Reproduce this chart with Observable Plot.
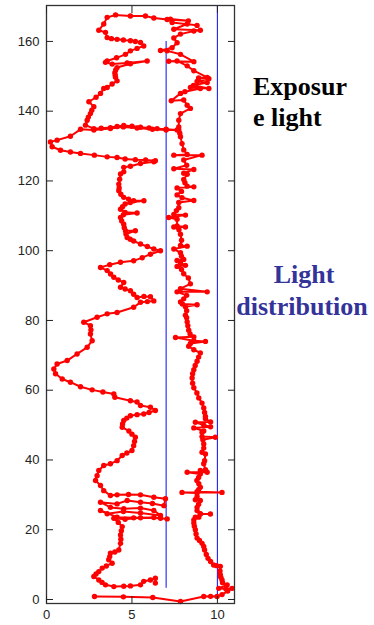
<!DOCTYPE html>
<html><head><meta charset="utf-8">
<script src="https://cdn.jsdelivr.net/npm/d3@7"></script>
<script src="https://cdn.jsdelivr.net/npm/@observablehq/plot@0.6"></script>
<style>body{margin:0;background:#fff;} #chart{position:relative;width:374px;height:625px;}</style>
</head><body><div id="chart"></div>
<script>
const xTicks = [0, 5, 10];
const yTicks = [0, 20, 40, 60, 80, 100, 120, 140, 160];
const guideX = [7, 10];
const guideYStart = [3.2, 0];
const guideYEnd = [160, 170.3];
const labelsBlack = ["Exposur", "e light"];
const labelsBlue = ["Light", "distribution"];

const bottomAndRight = [[2.81,0.86],[4.5,0.75],[6.22,0.57],[7.84,-0.57],[9.2,0.86],[9.6,0.9],[9.98,0.86],[10.27,1.4],[10.6,2.4],[10.86,3.2],[10.5,3.0],[10.08,3.2],[10.57,4.2],[10.3,4.8],[10.27,5.6],[10.2,6.4],[10.17,7.1],[10.15,8.2],[10.17,9.5],[9.95,9.7],[9.78,9.9],[9.6,10.9],[9.45,11.8],[9.35,12.9],[9.25,14.2],[9.2,15.2],[9.1,16.1],[8.95,16.9],[8.81,17.6],[8.75,18.8],[8.71,20.0],[8.65,21.0],[8.62,21.9],[8.62,22.8],[8.71,23.6],[8.91,23.6],[9.0,24.5],[9.59,24.5],[9.0,24.6],[8.81,25.5],[8.81,26.4],[8.9,27.3],[9.0,28.4],[8.71,28.6],[8.81,29.5],[8.81,30.5],[7.93,30.7],[10.27,30.7],[8.81,30.9],[8.9,31.5],[9.0,32.2],[8.91,33.2],[8.8,34.1],[8.9,35.0],[9.0,36.0],[8.23,36.5],[9.4,36.5],[9.0,37.0],[9.3,37.2],[9.2,38.9],[9.25,39.8],[9.3,41.7],[9.1,42.2],[9.2,43.4],[9.2,44.6],[9.15,45.8],[9.88,46.5],[9.1,46.7],[9.1,47.9],[9.2,48.3],[8.62,49.2],[9.6,49.5],[9.2,50.0],[8.71,50.8],[9.6,50.9],[9.3,51.8],[9.3,52.5],[9.25,53.6],[9.2,54.9],[9.1,56.3],[8.91,57.8],[8.8,59.2],[8.62,60.7],[8.55,62.0],[8.52,63.5],[8.55,64.7],[8.62,65.9],[8.7,67.1],[8.81,68.3],[8.9,69.5],[9.0,70.7],[8.62,71.6],[8.32,72.6],[8.42,73.4],[9.3,74.0],[8.62,74.2],[7.55,75.1],[8.62,75.3],[8.4,76.1],[8.32,77.2],[8.27,78.5],[8.23,79.6],[8.2,80.8],[8.13,81.5],[8.2,82.8],[8.13,83.9],[8.81,84.5],[7.95,84.7],[7.84,85.3],[8.03,86.2],[8.2,87.2],[7.64,88.2],[9.4,88.2],[7.84,89.1],[8.42,90.5],[8.3,92.2],[8.03,93.4],[7.9,94.6],[7.64,95.5],[8.13,95.8],[7.84,96.5],[7.64,97.2],[8.03,97.5],[7.9,98.4],[7.84,99.4],[7.45,100.5],[8.23,101.3],[7.84,101.5],[7.9,103.0],[7.84,104.7],[7.75,106.0],[7.45,106.8],[8.13,106.8],[7.64,107.1],[7.64,109.0],[7.15,109.5],[8.13,110.2],[7.45,110.4],[7.6,111.5],[7.74,112.3],[7.74,113.8],[8.62,114.4],[7.93,115.2],[7.64,116.0],[7.9,117.0],[7.64,118.0],[8.62,118.3],[8.23,118.5],[8.1,119.5],[8.03,120.4],[8.23,121.9],[8.03,122.2],[8.62,123.3],[7.45,123.5],[8.2,124.5],[8.03,126.0],[9.1,127.4],[7.45,127.4],[8.23,127.6],[8.03,128.9],[7.93,130.7],[7.84,132.7],[7.8,133.7],[7.74,134.6],[7.74,135.5],[7.74,137.4],[7.84,139.3],[8.42,140.8],[8.23,141.7],[8.03,143.2],[7.3,143.0],[7.84,145.1],[8.1,145.6],[9.0,146.5],[8.42,146.8],[9.5,146.5],[8.6,147.4],[9.4,148.2],[8.81,148.5],[9.5,149.3],[8.9,149.5],[9.4,149.7],[8.62,151.6],[8.23,153.0],[7.64,154.4],[7.15,154.3],[8.62,154.2],[7.84,156.3],[7.06,157.3],[6.67,157.4],[7.35,158.2],[7.64,159.6],[7.45,161.0],[7.84,162.1],[8.62,163.0],[9.0,163.2],[7.45,163.5],[8.23,165.0],[8.81,164.6],[7.35,165.4],[7.25,166.4],[8.3,165.9],[7.06,166.3]];

const topArc = [[6.28,166.7],[5.79,167.3],[4.91,167.3],[4.04,167.6],[3.55,166.9],[3.35,165.0],[3.06,163.2],[3.45,162.6],[3.55,161.1],[3.8,160.8],[4.13,160.6],[4.5,160.4],[4.91,160.2],[5.2,160.0],[5.5,159.7],[5.69,158.7],[5.3,158.0],[4.91,157.3],[4.62,156.3],[4.1,155.3],[3.55,154.4],[3.45,154.0],[3.84,153.5],[4.72,153.8],[5.89,154.4],[4.91,153.6],[4.13,152.5],[4.05,151.8],[4.0,151.0],[4.02,150.3],[4.04,149.7],[4.13,148.7],[3.84,147.8],[3.55,146.8],[3.35,146.5],[3.16,145.1],[2.9,144.0],[2.48,142.7],[2.77,141.3],[2.65,140.3],[2.57,139.3],[2.45,138.3],[2.38,137.4],[2.28,136.0]];

const leftSide = [[2.77,135.0],[3.2,135.1],[3.74,135.3],[4.13,135.6],[4.52,135.9],[5.0,135.7],[5.5,135.4],[6.0,135.2],[6.47,135.0],[7.0,134.8],[7.64,134.6],[7.0,134.6],[6.2,134.8],[5.3,135.2],[4.5,135.5],[3.74,135.0],[2.77,134.6],[1.99,134.8],[1.4,132.8],[0.62,131.7],[0.23,131.2],[0.33,129.8],[0.82,128.8],[1.4,128.3],[1.99,127.9],[2.8,127.4],[3.55,126.9],[4.13,126.7],[4.6,126.3],[5.2,126.1],[5.8,126.0],[6.37,125.8],[6.28,125.5],[5.5,125.0],[4.91,124.2],[4.52,123.9],[4.52,122.6],[4.33,122.0],[4.28,120.5],[4.23,119.1],[4.25,118.0],[4.23,117.2],[4.35,116.2],[4.52,115.3],[4.8,114.8],[5.1,114.3],[5.7,114.3],[4.9,113.8],[4.6,113.4],[4.45,112.6],[4.33,111.9],[4.6,111.0],[5.3,110.8],[4.5,110.3],[4.33,109.5],[4.4,108.5],[4.52,107.6],[4.55,106.6],[4.62,105.7],[5.2,105.7],[4.65,104.8],[4.72,103.8],[4.9,103.3],[5.1,102.8],[5.5,101.9],[5.9,101.2],[6.28,100.5],[6.67,100.0],[6.08,99.0],[5.6,98.0],[5.1,97.1],[4.33,96.7],[3.7,96.0],[3.16,95.2],[3.55,94.3],[3.75,93.3],[3.94,92.4],[4.2,91.6],[4.52,90.9],[4.33,89.5],[4.6,89.0],[4.91,88.5],[5.1,87.5],[5.3,86.6],[5.7,86.9],[6.08,86.8],[6.28,85.6],[5.9,85.4],[5.5,85.2],[5.1,83.8],[4.13,82.3],[3.55,81.9],[2.96,80.9],[2.18,79.5],[2.57,78.5],[2.6,77.3],[2.57,76.1],[2.67,74.2],[2.38,72.3],[1.79,70.4],[1.21,68.5],[0.62,67.5],[0.43,66.1],[0.53,64.7],[0.92,63.2],[1.4,62.3],[1.99,61.0],[2.67,60.1],[3.3,59.5],[3.94,58.9],[4.0,58.0],[4.91,57.0],[5.3,56.6],[5.5,55.6],[6.08,55.1],[6.37,54.2],[6.0,53.6],[5.69,53.2],[5.3,53.0],[4.91,52.7],[4.7,52.0],[4.52,51.3],[4.45,50.3],[4.43,49.4],[4.82,48.3],[5.0,47.4],[5.2,46.5],[5.15,45.3],[5.1,44.1],[5.0,42.7],[4.7,42.0],[4.43,41.3],[4.13,39.8],[3.74,38.9],[3.35,38.4],[3.06,37.0],[2.96,35.5],[2.87,34.1],[3.16,32.7],[3.35,31.2],[3.74,29.8],[4.13,30.0],[4.8,30.1],[5.5,30.0],[6.28,29.3],[6.96,28.9],[6.87,26.9],[6.2,27.5],[5.5,27.9],[4.72,28.4],[4.13,27.4],[3.16,27.9],[3.74,26.4],[4.52,26.0],[5.5,26.2],[6.28,25.5],[6.67,24.1],[5.5,24.8],[4.5,25.2],[3.55,24.6],[3.16,25.5],[4.13,23.6],[5.1,23.4],[6.28,23.5],[7.06,23.1],[6.67,23.3],[5.5,23.4],[4.6,23.0],[3.94,23.3],[4.2,22.1],[4.43,20.9],[4.38,19.7],[4.33,18.5],[4.35,17.3],[4.33,16.1],[4.23,14.2],[4.0,13.6],[3.74,13.3],[3.7,12.3],[3.64,11.4],[3.84,10.4],[3.5,9.6],[3.26,9.0],[3.06,8.0],[2.9,7.3],[2.77,6.6],[3.06,5.6],[3.25,4.9],[3.45,4.2],[3.94,3.7],[4.52,3.8],[4.91,3.9],[5.5,4.2],[5.69,5.2],[6.08,5.6],[6.37,6.1],[6.37,4.7]];

const path = [...bottomAndRight, ...topArc, ...leftSide];
const guides = guideX.map((x, i) => ({x, y1: guideYStart[i], y2: guideYEnd[i]}));

const plot = Plot.plot({
  width: 374, height: 625,
  marginLeft: 46, marginRight: 140, marginTop: 5, marginBottom: 22,
  style: {fontFamily: "'Liberation Sans', Arial, sans-serif", fontSize: "13px", color: "#222", background: "#fff"},
  x: {domain: [0, 11]},
  y: {domain: [-1.15, 170.3]},
  marks: [
    Plot.ruleX(guides, {x: "x", y1: "y1", y2: "y2", stroke: "#1f1fff", strokeWidth: 1.1}),
    Plot.line(path, {x: d => d[0], y: d => d[1], stroke: "#ff0000", strokeWidth: 2}),
    Plot.dot(path, {x: d => d[0], y: d => d[1], fill: "#ff0000", r: 2.7}),
    Plot.frame({stroke: "#333", strokeWidth: 1.3}),
    Plot.axisX(xTicks, {anchor: "bottom", tickSize: -7, tickPadding: 13, label: null}),
    Plot.axisX(xTicks, {anchor: "top", tickSize: -7, tickFormat: () => "", label: null}),
    Plot.axisY(yTicks, {anchor: "left", tickSize: -7, tickPadding: 14, label: null}),
    Plot.axisY(yTicks, {anchor: "right", tickSize: -7, tickFormat: () => "", label: null})
  ]
});
document.getElementById("chart").appendChild(plot);

const svg = d3.select(plot);
function label(txt, x, y, anchor, color) {
  svg.append("text").attr("x", x).attr("y", y)
    .style("text-anchor", anchor)
    .style("font-family", "'Liberation Serif', 'Times New Roman', serif")
    .style("font-size", "26px").style("font-weight", "bold")
    .style("fill", color).text(txt);
}
label(labelsBlack[0], 253, 95, "start", "#000");
label(labelsBlack[1], 253, 126, "start", "#000");
label(labelsBlue[0], 304, 283, "middle", "#333399");
label(labelsBlue[1], 302, 315, "middle", "#333399");
</script>
</body></html>
